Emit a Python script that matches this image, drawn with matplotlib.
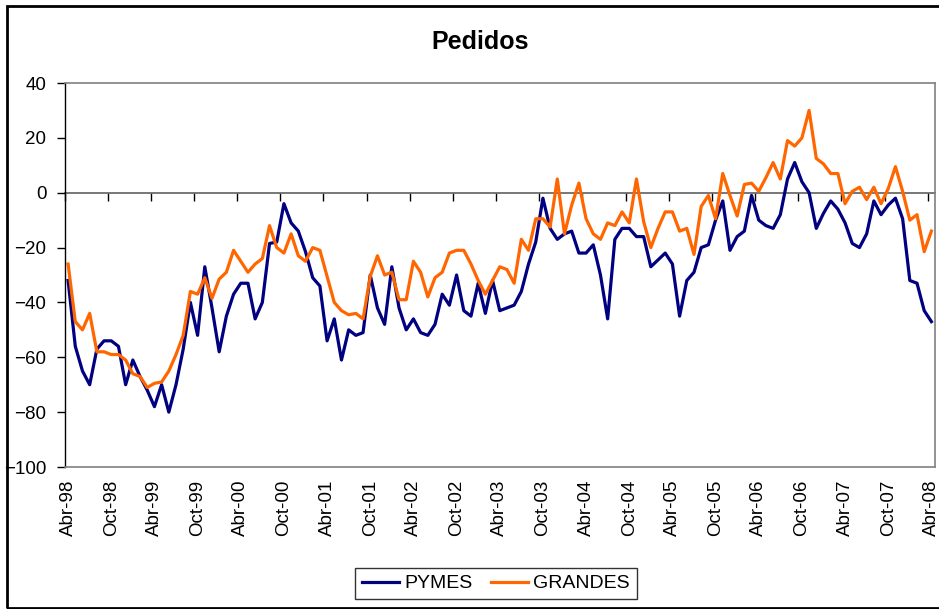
import matplotlib
matplotlib.use("Agg")
import matplotlib.pyplot as plt
from matplotlib.patches import Rectangle
import numpy as np

plt.rcParams['font.family'] = ['Liberation Sans', 'DejaVu Sans']

# Monthly series, Abr-98 .. Abr-08 (121 months)
pymes = [-32, -56, -65, -70, -57, -54, -54, -56, -70, -61,
         -67, -72, -78, -70, -80, -70, -57, -40, -52, -27,
         -42, -58, -45, -37, -33, -33, -46, -40, -18.5, -18,
         -4, -11, -14, -21.5, -31, -34, -54, -46, -61, -50,
         -52, -51, -30, -42, -48, -27, -42, -50, -46, -51,
         -52, -48, -37, -41, -30, -43, -45, -33, -44, -32,
         -43, -42, -41, -36, -26, -18, -2, -13, -17, -15,
         -14, -22, -22, -19, -30, -46, -17, -13, -13, -16,
         -16, -27, -24.5, -22, -26, -45, -32, -29, -20, -19,
         -10, -3, -21, -16, -14, -1, -10, -12, -13, -8,
         5, 11, 4, 0, -13, -7.5, -3, -6, -11, -18.5,
         -20, -15, -3, -8, -4.5, -2, -9.5, -32, -33, -43,
         -47]

grandes = [-26, -47, -50, -44, -58, -58, -59, -59, -61, -66,
           -67, -71, -69.5, -69, -65, -59, -52, -36, -37, -31,
           -38.5, -31.5, -29, -21, -25, -29, -26, -24, -12, -20,
           -22, -15, -23, -25, -20, -21, -30.5, -40, -43, -44.5,
           -44, -46, -30.5, -23, -30, -29, -39, -39, -25, -29,
           -38, -31, -29, -22, -21, -21, -26, -32, -37, -32,
           -27, -28, -33, -17, -21, -9.5, -9.5, -12.5, 5, -15,
           -4.5, 3.5, -9.5, -15, -17, -11, -12, -7, -11, 5,
           -10.5, -20, -13, -7, -7, -14, -13, -22.5, -5, -1,
           -9.5, 7, -1, -8.5, 3, 3.5, 0.5, 5.5, 11, 5,
           19, 17, 20, 30, 12.5, 10.5, 7, 7, -4, 0.5,
           2, -2.5, 2, -4, 1.5, 9.5, 0.5, -10, -8, -21.5,
           -14]

tick_labels = []
for yr in range(98, 108):
    tick_labels.append("Abr-%02d" % (yr % 100))
    tick_labels.append("Oct-%02d" % (yr % 100))
tick_labels.append("Abr-08")

x = np.arange(len(pymes))

fig = plt.figure(figsize=(9.39, 6.09), dpi=100)
ax = fig.add_axes([64.5 / 939, (609 - 467) / 609, (935 - 64.5) / 939, (467 - 83) / 609])

ax.plot(x, pymes, color='#000080', lw=2.3, label='PYMES')
ax.plot(x, grandes, color='#FF6600', lw=2.3, label='GRANDES')

ax.set_xlim(-0.5, 120.5)
ax.set_ylim(-100, 40)
ax.set_yticks(range(-100, 41, 20))
ax.tick_params(axis='y', direction='out', length=6, width=1, labelsize=13.5, pad=7)
ax.set_xticks(x[::6])
ax.set_xticklabels(tick_labels, rotation=90, fontsize=13.5)
ax.tick_params(axis='x', length=0, pad=9)

for side in ['top', 'right', 'bottom']:
    ax.spines[side].set_color('#808080')
    ax.spines[side].set_linewidth(1.2)
ax.spines['left'].set_color('black')
ax.spines['left'].set_linewidth(1)

# category axis crossing at zero, tick marks between categories
sec = ax.secondary_xaxis(100 / 140)
sec.set_alignment('bottom')
sec.set_xticks(np.arange(-0.5, 120, 6))
sec.tick_params(direction='out', length=6, width=1, colors='black',
                labelbottom=False, labeltop=False)
sec.spines['bottom'].set_color('#606060')
sec.spines['bottom'].set_linewidth(1.2)
sec.spines['top'].set_visible(False)

fig.text(480 / 939, 1 - 42 / 609, 'Pedidos', ha='center', va='center',
         fontsize=18, fontweight='bold')

leg = fig.legend(loc='center', bbox_to_anchor=(496 / 939, 1 - 583.5 / 609), ncol=2,
                 fontsize=14, frameon=True, fancybox=False, edgecolor='black',
                 handlelength=1.9, handletextpad=0.3, columnspacing=0.9,
                 borderpad=0.35, borderaxespad=0)
leg.get_frame().set_linewidth(1)

# chart area border
fig.patches.append(Rectangle((7 / 939, 1.5 / 609), 1.0, 602 / 609,
                             transform=fig.transFigure, fill=False,
                             edgecolor='black', lw=2))

fig.savefig('out.png', dpi=100)
